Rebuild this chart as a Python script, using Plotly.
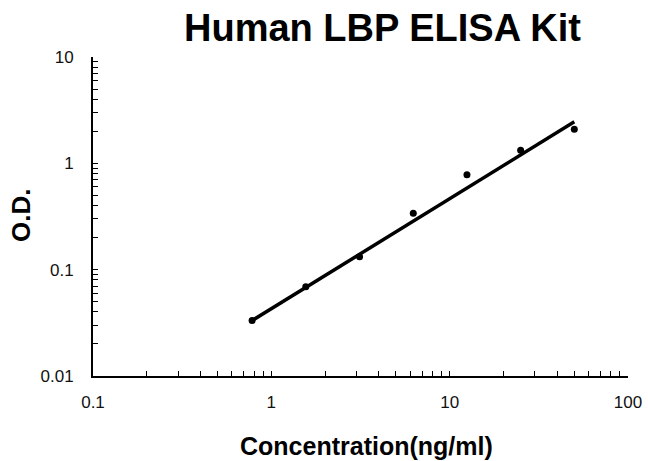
import plotly.graph_objects as go

# Data
concentration = [0.78, 1.56, 3.125, 6.25, 12.5, 25, 50]
od_values = [0.0332, 0.069, 0.132, 0.339, 0.78, 1.33, 2.09]

fit_x = [0.78, 50]
fit_y = [0.0332, 2.46]

x_tickvals = [0.1, 1, 10, 100]
x_ticktext = ["0.1", "1", "10", "100"]
y_tickvals = [0.01, 0.1, 1, 10]
y_ticktext = ["0.01", "0.1", "1", "10"]

title_text = "Human LBP ELISA Kit"
x_title = "Concentration(ng/ml)"
y_title = "O.D."

fig = go.Figure()
fig.add_trace(go.Scatter(x=fit_x, y=fit_y, mode="lines",
                         line=dict(color="black", width=3.5),
                         showlegend=False, hoverinfo="skip"))
fig.add_trace(go.Scatter(x=concentration, y=od_values, mode="markers",
                         marker=dict(color="black", size=7),
                         showlegend=False))

axis_common = dict(
    type="log",
    automargin=False,
    showgrid=False,
    zeroline=False,
    showline=True,
    linecolor="black",
    linewidth=2,
    ticks="inside",
    ticklen=5,
    tickwidth=1,
    tickcolor="black",
    tickfont=dict(family="Liberation Sans, Arial, sans-serif", size=17, color="#111"),
    minor=dict(dtick="D1", ticks="inside", ticklen=5, tickwidth=1,
               tickcolor="black", showgrid=False),
)

fig.update_xaxes(range=[-1, 2], tickvals=x_tickvals, ticktext=x_ticktext,
                 ticklabelstandoff=10, **axis_common)
fig.update_yaxes(range=[-2, 1], tickvals=y_tickvals, ticktext=y_ticktext,
                 ticklabelstandoff=14, **axis_common)

bold_font = "Liberation Sans, Arial, sans-serif"
fig.add_annotation(text="<b>" + title_text + "</b>", xref="paper", yref="paper",
                   x=0.542, y=1.0908, xanchor="center", yanchor="middle",
                   showarrow=False, font=dict(family=bold_font, size=38, color="black"))
fig.add_annotation(text="<b>" + x_title + "</b>", xref="paper", yref="paper",
                   x=0.511, y=-0.219, xanchor="center", yanchor="middle",
                   showarrow=False, font=dict(family=bold_font, size=25, color="black"))
fig.add_annotation(text="<b>" + y_title + "</b>", xref="paper", yref="paper",
                   x=-0.1333, y=0.504, xanchor="center", yanchor="middle",
                   textangle=-90, showarrow=False,
                   font=dict(family=bold_font, size=26, color="black"))

fig.update_layout(
    width=648, height=461,
    margin=dict(l=93, r=20, t=57, b=85),
    paper_bgcolor="white", plot_bgcolor="white",
    showlegend=False,
)

fig.write_html("out.html", config={"displayModeBar": False},
               post_script="document.body.style.margin='0';document.body.style.overflow='hidden';")
